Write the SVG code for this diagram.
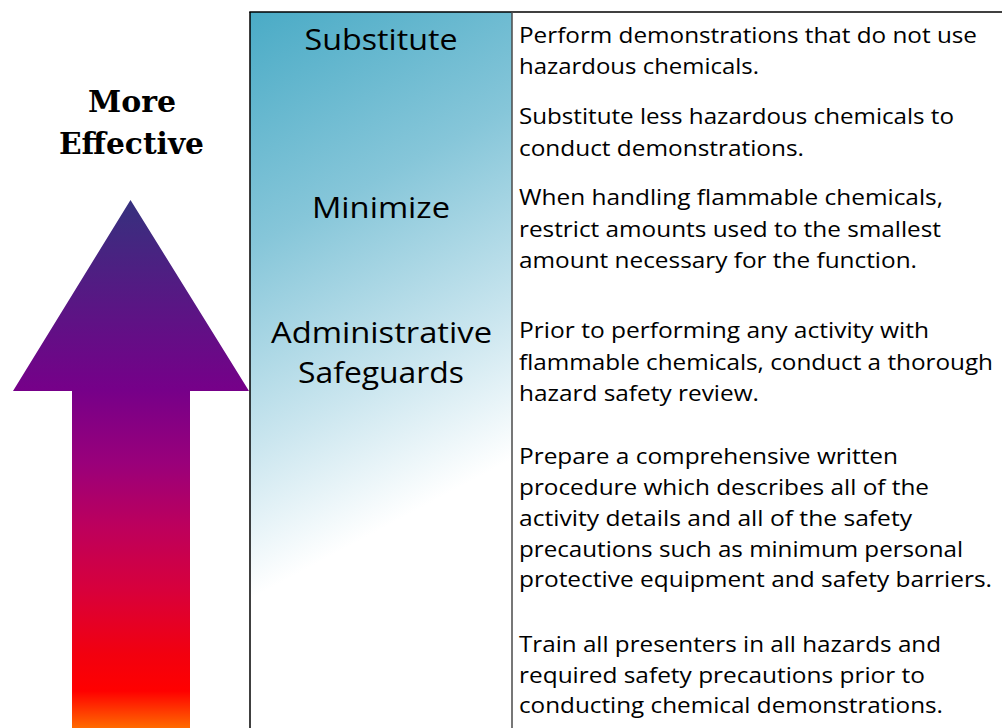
<svg xmlns="http://www.w3.org/2000/svg" width="1002" height="728" viewBox="0 0 1002 728">
  <defs>
    <linearGradient id="arrowGrad" gradientUnits="userSpaceOnUse" x1="0" y1="200" x2="0" y2="728">
      <stop offset="0" stop-color="#36317e"/>
      <stop offset="0.36" stop-color="#760089"/>
      <stop offset="0.5" stop-color="#9a007a"/>
      <stop offset="0.62" stop-color="#bd005c"/>
      <stop offset="0.74" stop-color="#d8003b"/>
      <stop offset="0.86" stop-color="#f2000f"/>
      <stop offset="0.93" stop-color="#ff0000"/>
      <stop offset="1" stop-color="#ff6a00"/>
    </linearGradient>
    <linearGradient id="colGrad" gradientUnits="userSpaceOnUse" x1="250" y1="12" x2="494" y2="469">
      <stop offset="0" stop-color="#4aabc6"/>
      <stop offset="0.4" stop-color="#86c6d9"/>
      <stop offset="0.75" stop-color="#cbe6ef"/>
      <stop offset="1" stop-color="#ffffff"/>
    </linearGradient>
  </defs>
  <style>
    .body { font-family: "Open Sans", "Noto Sans", "DejaVu Sans", sans-serif; font-size: 22px; fill: #000; }
    .label { font-family: "Open Sans", "Noto Sans", "DejaVu Sans", sans-serif; font-size: 29px; fill: #000; text-anchor: middle; }
    .title { font-family: "DejaVu Serif", "Liberation Serif", serif; font-weight: bold; font-size: 30px; fill: #000; text-anchor: middle; }
  </style>
  <rect width="1002" height="728" fill="#ffffff"/>

  <g id="arrow">
    <path d="M130.5,200 L249,391 L190,391 L190,728 L72,728 L72,391 L13,391 Z" fill="url(#arrowGrad)"/>
  </g>

  <g id="title">
    <text class="title" x="132" y="112" textLength="88" lengthAdjust="spacingAndGlyphs">More</text>
    <text class="title" x="131.5" y="154" textLength="145" lengthAdjust="spacingAndGlyphs">Effective</text>
  </g>

  <g id="column">
    <rect x="250" y="12" width="262" height="720" fill="url(#colGrad)"/>
    <line x1="250" y1="12" x2="250" y2="728" stroke="#000" stroke-width="1.5"/>
    <line x1="249.25" y1="12" x2="1002" y2="12" stroke="#000" stroke-width="1.5"/>
    <line x1="512" y1="12" x2="512" y2="728" stroke="#4a4a4a" stroke-width="1.5"/>
  </g>

  <g id="label-substitute">
    <text class="label" x="381" y="50" textLength="153" lengthAdjust="spacingAndGlyphs">Substitute</text>
  </g>
  <g id="label-minimize">
    <text class="label" x="381" y="218" textLength="138" lengthAdjust="spacingAndGlyphs">Minimize</text>
  </g>
  <g id="label-admin">
    <text class="label" x="381.5" y="343" textLength="221" lengthAdjust="spacingAndGlyphs">Administrative</text>
    <text class="label" x="381" y="383" textLength="166" lengthAdjust="spacingAndGlyphs">Safeguards</text>
  </g>

  <g id="text-substitute">
    <text class="body" x="519" y="42.5" textLength="458" lengthAdjust="spacingAndGlyphs">Perform demonstrations that do not use</text>
    <text class="body" x="519" y="73.5" textLength="240" lengthAdjust="spacingAndGlyphs">hazardous chemicals.</text>
    <text class="body" x="519" y="124" textLength="435" lengthAdjust="spacingAndGlyphs">Substitute less hazardous chemicals to</text>
    <text class="body" x="519" y="155.5" textLength="285" lengthAdjust="spacingAndGlyphs">conduct demonstrations.</text>
  </g>
  <g id="text-minimize">
    <text class="body" x="519" y="204.5" textLength="424" lengthAdjust="spacingAndGlyphs">When handling flammable chemicals,</text>
    <text class="body" x="519" y="236.5" textLength="422" lengthAdjust="spacingAndGlyphs">restrict amounts used to the smallest</text>
    <text class="body" x="519" y="268" textLength="398" lengthAdjust="spacingAndGlyphs">amount necessary for the function.</text>
  </g>
  <g id="text-admin">
    <text class="body" x="519" y="338" textLength="410" lengthAdjust="spacingAndGlyphs">Prior to performing any activity with</text>
    <text class="body" x="519" y="369.5" textLength="474" lengthAdjust="spacingAndGlyphs">flammable chemicals, conduct a thorough</text>
    <text class="body" x="519" y="400.5" textLength="240" lengthAdjust="spacingAndGlyphs">hazard safety review.</text>
    <text class="body" x="519" y="464" textLength="379" lengthAdjust="spacingAndGlyphs">Prepare a comprehensive written</text>
    <text class="body" x="519" y="495" textLength="410" lengthAdjust="spacingAndGlyphs">procedure which describes all of the</text>
    <text class="body" x="519" y="525.5" textLength="393" lengthAdjust="spacingAndGlyphs">activity details and all of the safety</text>
    <text class="body" x="519" y="556.5" textLength="444" lengthAdjust="spacingAndGlyphs">precautions such as minimum personal</text>
    <text class="body" x="519" y="587" textLength="473" lengthAdjust="spacingAndGlyphs">protective equipment and safety barriers.</text>
    <text class="body" x="519" y="652" textLength="422" lengthAdjust="spacingAndGlyphs">Train all presenters in all hazards and</text>
    <text class="body" x="519" y="683" textLength="406" lengthAdjust="spacingAndGlyphs">required safety precautions prior to</text>
    <text class="body" x="519" y="713" textLength="424" lengthAdjust="spacingAndGlyphs">conducting chemical demonstrations.</text>
  </g>
</svg>
